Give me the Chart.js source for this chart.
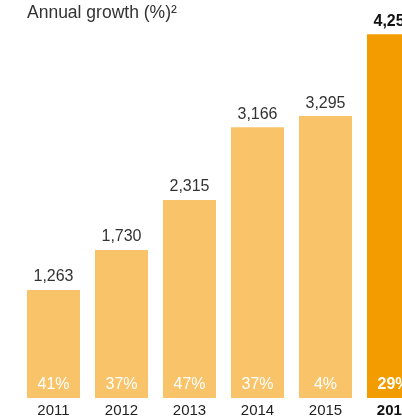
<!DOCTYPE html>
<html>
<head>
<meta charset="utf-8">
<script src="https://cdn.jsdelivr.net/npm/chart.js@4.4.0/dist/chart.umd.min.js"></script>
<style>
  html, body { margin: 0; padding: 0; background: #fff; overflow: hidden; }
  #wrap { position: relative; width: 430px; height: 424px; }
  #title {
    position: absolute; left: 27px; top: 2px;
    font-family: "Liberation Sans", Arial, sans-serif;
    font-size: 17.5px; color: #333; white-space: nowrap;
  }
</style>
</head>
<body>
<div id="wrap">
  <canvas id="growthChart" width="430" height="424"></canvas>
  <div id="title">Annual growth (%)²</div>
</div>
<script>
// Yearly totals and growth rates
const years = ['2011', '2012', '2013', '2014', '2015', '2016'];
const totals = [1263, 1730, 2315, 3166, 3295, 4251];
const growth = [41, 37, 47, 37, 4, 29];

const lightBar = '#f9c469';
const strongBar = '#f39c00';
const lastIdx = years.length - 1;

// Writes the total above each bar and the growth rate inside it
const barLabels = {
    id: 'barLabels',
    afterDatasetsDraw(chart) {
        const ctx = chart.ctx;
        const meta = chart.getDatasetMeta(0);
        const base = chart.scales.y.getPixelForValue(0);
        ctx.save();
        ctx.textAlign = 'center';
        meta.data.forEach((bar, i) => {
            const bold = i === lastIdx ? 'bold ' : '';
            ctx.font = bold + '16px "Liberation Sans", Arial, sans-serif';
            ctx.fillStyle = i === lastIdx ? '#111' : '#333';
            ctx.textBaseline = 'bottom';
            ctx.fillText(totals[i].toLocaleString('en-US'), bar.x, bar.y - 5);

            ctx.fillStyle = '#fff';
            ctx.textBaseline = 'middle';
            ctx.fillText(growth[i] + '%', bar.x, base - 13);
        });
        ctx.restore();
    }
};

new Chart(document.getElementById('growthChart'), {
    type: 'bar',
    data: {
        labels: years,
        datasets: [{
            data: totals,
            backgroundColor: years.map((y, i) => i === lastIdx ? strongBar : lightBar),
            borderWidth: 0,
            barPercentage: 1,
            categoryPercentage: 53 / 68
        }]
    },
    options: {
        responsive: false,
        animation: false,
        layout: {
            padding: { left: 19.5, right: 2.5, top: 13, bottom: 0 }
        },
        plugins: {
            legend: { display: false },
            tooltip: { enabled: false }
        },
        scales: {
            x: {
                grid: { display: false, drawTicks: false },
                border: { display: false },
                ticks: {
                    padding: 4,
                    color: ctx => ctx.index === lastIdx ? '#111' : '#222',
                    font: ctx => ({
                        family: '"Liberation Sans", Arial, sans-serif',
                        size: 15,
                        weight: ctx.index === lastIdx ? 'bold' : 'normal'
                    })
                }
            },
            y: {
                display: false,
                min: 0,
                max: 4500
            }
        }
    },
    plugins: [barLabels]
});
</script>
</body>
</html>
